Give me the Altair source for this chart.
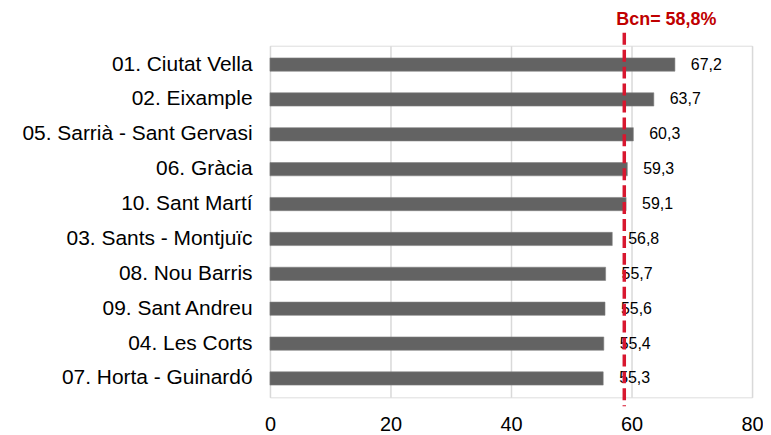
import altair as alt
import pandas as pd

districts = ["01. Ciutat Vella", "02. Eixample", "05. Sarrià - Sant Gervasi", "06. Gràcia",
             "10. Sant Martí", "03. Sants - Montjuïc", "08. Nou Barris", "09. Sant Andreu",
             "04. Les Corts", "07. Horta - Guinardó"]
values = [67.2, 63.7, 60.3, 59.3, 59.1, 56.8, 55.7, 55.6, 55.4, 55.3]
labels = ["67,2", "63,7", "60,3", "59,3", "59,1", "56,8", "55,7", "55,6", "55,4", "55,3"]
bcn_value = [58.8]
bcn_label = ["Bcn= 58,8%"]

df = pd.DataFrame({"district": districts, "value": values, "label": labels})
ref = pd.DataFrame({"value": bcn_value, "label": bcn_label})

font = "Liberation Sans"

y_enc = alt.Y("district:N", sort=districts, title=None,
              scale=alt.Scale(paddingInner=0.62, paddingOuter=0.35),
              axis=alt.Axis(labelFontSize=21, labelColor="#000000", labelFont=font,
                            labelPadding=18, ticks=False, domain=False, labelLimit=400))
x_enc = alt.X("value:Q", title=None, scale=alt.Scale(domain=[0, 80], nice=False),
              axis=alt.Axis(values=[0, 20, 40, 60, 80], labelFontSize=20, labelColor="#000000",
                            labelFont=font, labelPadding=17, ticks=False, domain=False,
                            labelFlush=False, labelOverlap=False,
                            grid=True, gridColor="#d9d9d9", gridWidth=1.5))

bars = alt.Chart(df).mark_bar(color="#636363", stroke="#808080", strokeWidth=0.6).encode(y=y_enc, x=x_enc)
text = alt.Chart(df).mark_text(align="left", baseline="middle", dx=16, fontSize=16,
                               font=font, color="#000000").encode(
    y=alt.Y("district:N", sort=districts), x="value:Q", text="label:N")

rule = alt.Chart(ref).mark_rule(color="#d8172f", strokeWidth=3.5, strokeDash=[12, 5]).encode(
    x="value:Q", y=alt.value(-13), y2=alt.value(362))
rtext = alt.Chart(ref).mark_text(align="left", baseline="middle", dx=-8, fontSize=18, fontWeight="bold",
                                 font=font, color="#c00000").encode(
    x="value:Q", y=alt.value(-26), text="label:N")

chart = alt.layer(bars, text, rule, rtext).properties(
    width=484, height=353,
    autosize=alt.AutoSizeParams(type="none"),
    padding={"left": 263, "top": 37, "right": 11, "bottom": 45},
).configure_view(stroke=None).configure(background="white")

chart.save("out.html", embed_options={"renderer": "svg", "actions": False})
